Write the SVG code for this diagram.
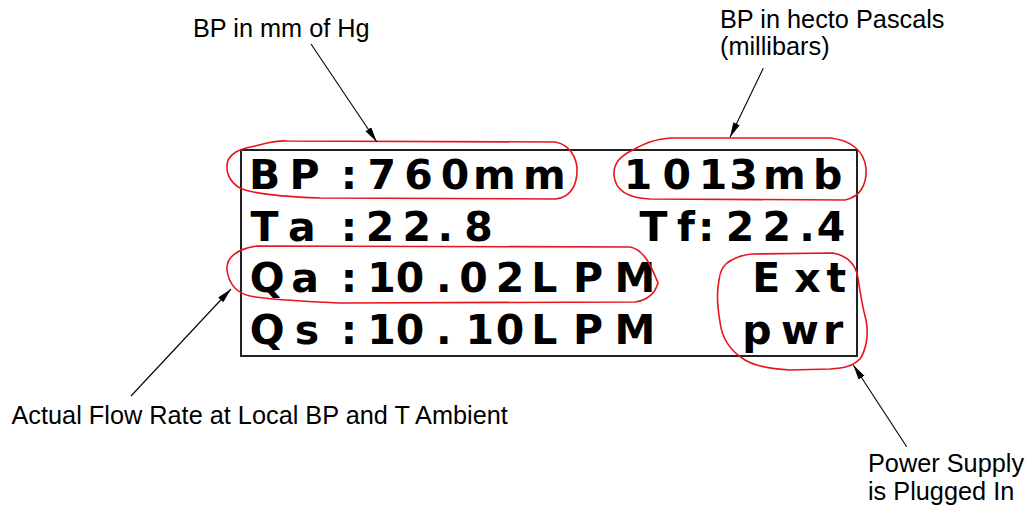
<svg xmlns="http://www.w3.org/2000/svg" width="1028" height="510" viewBox="0 0 1028 510">
<style>
.lbl{font-family:"Liberation Sans",Arial,sans-serif;font-size:25.3px;fill:#000}
.lcd{font-family:"DejaVu Sans","Liberation Sans",sans-serif;font-size:41px;font-weight:bold;fill:#000}
.loop{fill:none;stroke:#e8141e;stroke-width:1.6;stroke-linejoin:round}
.con{stroke:#000;stroke-width:1.1;fill:none;marker-end:url(#ah)}
</style>
<defs>
<marker id="ah" markerUnits="userSpaceOnUse" markerWidth="16" markerHeight="8" refX="15" refY="3.5" orient="auto">
<path d="M0,0 L15,3.5 L0,7 Z" fill="#000"/>
</marker>
</defs>
<rect width="1028" height="510" fill="#fff"/>
<g id="display">
<rect x="241" y="150" width="616" height="206" fill="none" stroke="#222" stroke-width="2"/>
<text class="lcd" x="249 289.6 340.7 367.5 404.2 440.8 473 523" y="188.5">BP:760mm</text>
<text class="lcd" x="623.8 662.5 698.8 729.2 763 813" y="188.5">1013mb</text>
<text class="lcd" x="250.6 288 340.7 365.8 402.5 437.6 464.2" y="240.5">Ta:22.8</text>
<text class="lcd" x="639.6 677.1 698 725.8 762.5 799.2 816.7" y="240.5">Tf:22.4</text>
<text class="lcd" x="249.7 291.3 340.7 367.2 395.8 435.9 459.2 495.8 531.3 573 614.6" y="292">Qa:10.02LPM</text>
<text class="lcd" x="752.3 794.2 826.5" y="292">Ext</text>
<text class="lcd" x="249.7 294.7 340.7 367.2 395.8 435.9 465.5 495.8 531.3 573 614.6" y="343.5">Qs:10.10LPM</text>
<text class="lcd" x="742.3 780.9 823" y="343.5">pwr</text>
</g>
<g id="loops">
<path class="loop" d="M228,160 C232,153 237,151 246,148 C262,145 272,140 287,141 L555,142 C572,145 580,162 576,180 C573,192 566,198 555,199 L320,198 C290,197 255,195 240,188 C228,181 225,170 228,160 Z"/>
<path class="loop" d="M633,150 C645,143 655,139 672,138 L830,138 C850,140 864,150 866,168 C867,185 860,197 845,200 L650,199 C628,198 615,190 614,175 C613,162 622,155 633,150 Z"/>
<path class="loop" d="M257,246 L630,247 C645,250 652,268 658,283 C655,294 648,300 635,302 L340,303 C300,301 270,300 250,296 C237,293 229,285 227,270 C226,258 236,249 257,246 Z"/>
<path class="loop" d="M727,263 C735,257 742,255 752,254 L833,253 C848,256 856,265 858,278 C860,292 862,305 866,320 C869,335 866,350 860,359 C853,366 845,368 830,369 L790,370 C770,369 755,366 745,360 C732,352 722,340 720,322 C717,305 717,290 719,280 C720,272 722,267 727,263 Z"/>
</g>
<g id="connectors">
<line class="con" x1="311" y1="44" x2="376.7" y2="141.7"/>
<line class="con" x1="763.3" y1="68.3" x2="730" y2="137.3"/>
<line class="con" x1="131" y1="396" x2="231" y2="289"/>
<line class="con" x1="906.7" y1="446.7" x2="853.3" y2="365"/>
</g>
<g id="label-bp-mm"><text class="lbl" x="193" y="37">BP in mm of Hg</text></g>
<g id="label-bp-hpa"><text class="lbl" x="720" y="27.5">BP in hecto Pascals</text><text class="lbl" x="720" y="54.5">(millibars)</text></g>
<g id="label-flow"><text class="lbl" x="11.5" y="424">Actual Flow Rate at Local BP and T Ambient</text></g>
<g id="label-power"><text class="lbl" x="868" y="472">Power Supply</text><text class="lbl" x="868" y="500">is Plugged In</text></g>
</svg>
